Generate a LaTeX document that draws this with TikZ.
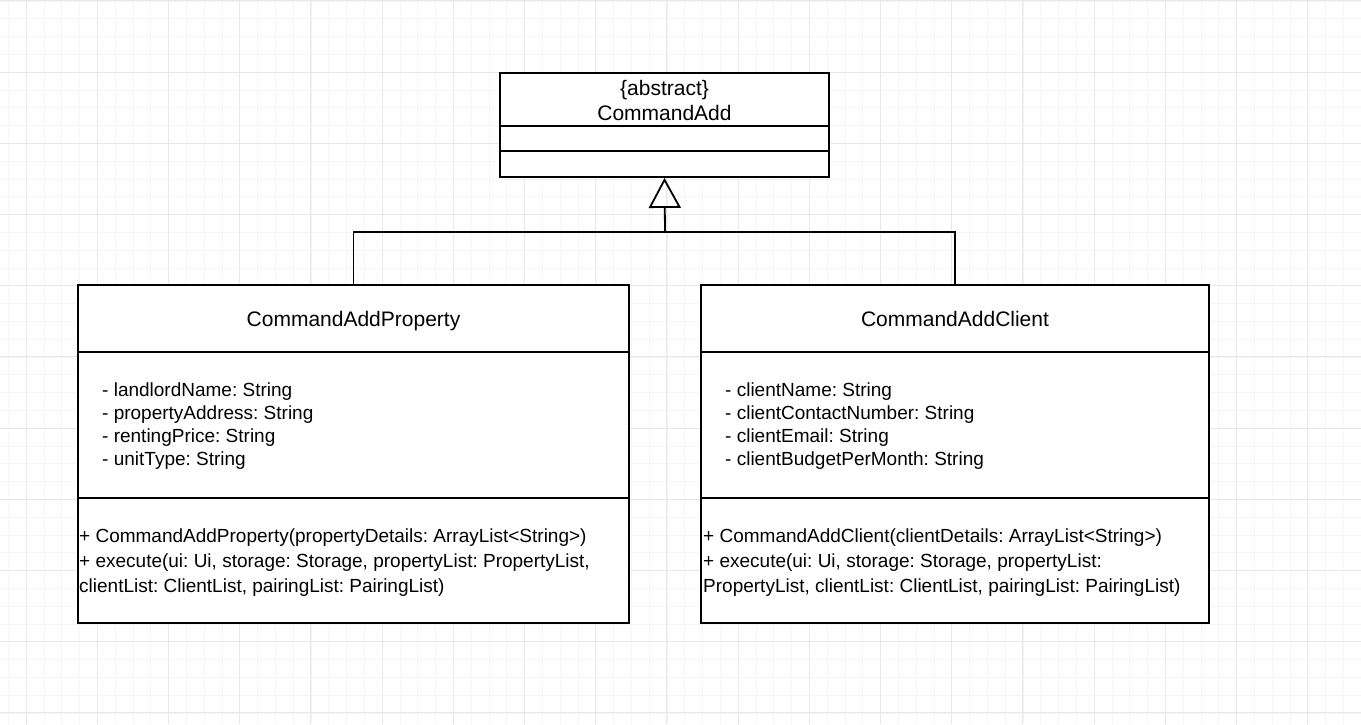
\documentclass[tikz,border=0pt]{standalone}
\usepackage{fontspec}
\setmainfont{Liberation Sans}
\usepackage{tikz}
\usetikzlibrary{arrows.meta,backgrounds}
\frenchspacing

\begin{document}
\begin{tikzpicture}[x=1pt,y=-1pt,
  gridminor/.style={draw=black!4,line width=0.6pt},
  gridmajor/.style={draw=black!9,line width=0.8pt},
  part/.style={draw,line width=1.8pt,rectangle,inner sep=0pt},
  nametext/.style={inner sep=0pt,font=\fontsize{21pt}{25pt}\selectfont,align=center},
  membertext/.style={inner sep=0pt,anchor=west,align=left,font=\fontsize{19pt}{23pt}\selectfont},
  optext/.style={inner sep=0pt,anchor=west,align=left,font=\fontsize{19pt}{25pt}\selectfont},
  inherit/.style={line width=1.8pt,-{Triangle[open,length=30pt,width=32pt]}}]
\useasboundingbox (0,0) rectangle (1361,724);
% grid
\fill[white] (0,0) rectangle (1361,724);
\foreach \i in {0,...,80}
  \draw[gridminor] ({26+17.8*(\i-4)},0) -- ++(0,724);
\foreach \i in {0,...,44}
  \draw[gridminor] (0,{0.8+17.8*\i}) -- ++(1361,0);
\foreach \i in {0,...,19}
  \draw[gridmajor] ({26+71.2*(\i-1)},0) -- ++(0,724);
\foreach \i in {0,...,10}
  \draw[gridmajor] (0,{0.8+71.2*\i}) -- ++(1361,0);

% abstract class
\node[part,fill=white,minimum width=329pt,minimum height=53pt] (absName) at (664.5,99.5) {};
\node[part,fill=white,minimum width=329pt,minimum height=25pt] (absAttrs) at (664.5,138.5) {};
\node[part,fill=white,minimum width=329pt,minimum height=26pt] (absOps) at (664.5,164) {};
\node[nametext] (absLabel) at (664.5,100.5) {\{abstract\}\\CommandAdd};

% CommandAddProperty
\node[part,fill=white,minimum width=551pt,minimum height=67pt] (propName) at (353.5,318.5) {};
\node[part,fill=white,minimum width=551pt,minimum height=146pt] (propAttrs) at (353.5,425) {};
\node[part,fill=white,minimum width=551pt,minimum height=125pt] (propOps) at (353.5,560.5) {};
\node[nametext,anchor=base] (propLabel) at (353.5,326) {CommandAddProperty};
\node[membertext] (propFields) at (102,426.5) {- landlordName: String\\- propertyAddress: String\\- rentingPrice: String\\- unitType: String};
\node[optext] (propMethods) at (79,563) {+ CommandAddProperty(propertyDetails: ArrayList<String>)\\+ execute(ui: Ui, storage: Storage, propertyList: PropertyList,\\clientList: ClientList, pairingList: PairingList)};

% CommandAddClient
\node[part,fill=white,minimum width=508pt,minimum height=67pt] (clientName) at (955,318.5) {};
\node[part,fill=white,minimum width=508pt,minimum height=146pt] (clientAttrs) at (955,425) {};
\node[part,fill=white,minimum width=508pt,minimum height=125pt] (clientOps) at (955,560.5) {};
\node[nametext,anchor=base] (clientLabel) at (955,326) {CommandAddClient};
\node[membertext] (clientFields) at (725,426.5) {- clientName: String\\- clientContactNumber: String\\- clientEmail: String\\- clientBudgetPerMonth: String};
\node[optext] (clientMethods) at (703,563) {+ CommandAddClient(clientDetails: ArrayList<String>)\\+ execute(ui: Ui, storage: Storage, propertyList:\\PropertyList, clientList: ClientList, pairingList: PairingList)};

% generalisation
\coordinate (junction) at (665,232);
\draw[line width=1.8pt] (propName.north) |- (junction) -| (clientName.north);
\draw[inherit] (junction) -- (absOps.south);
\end{tikzpicture}
\end{document}
